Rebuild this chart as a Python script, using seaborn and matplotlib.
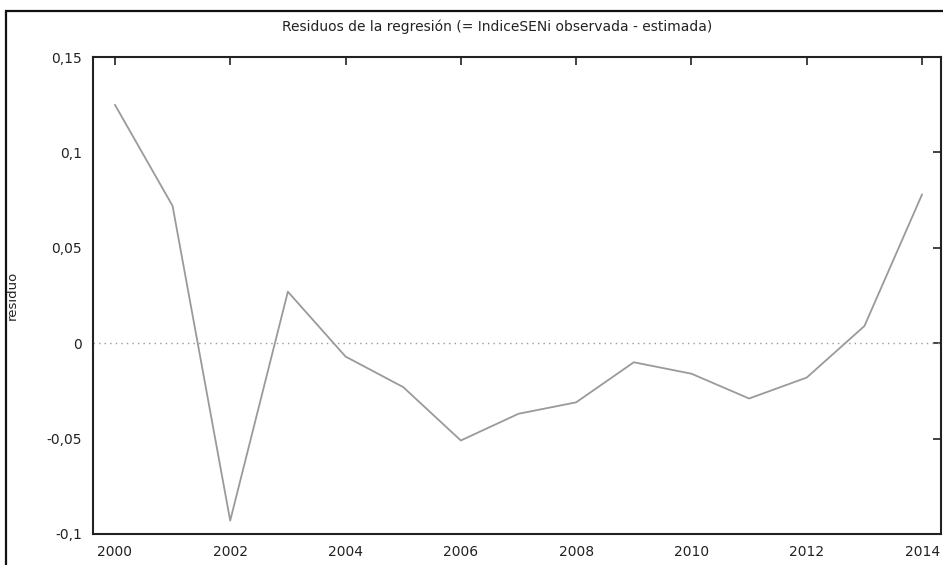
import matplotlib
matplotlib.use("Agg")
import matplotlib.pyplot as plt
from matplotlib.patches import Rectangle
from matplotlib.ticker import FuncFormatter
import pandas as pd
import seaborn as sns

# Residuals
years = [2000, 2001, 2002, 2003, 2004, 2005, 2006, 2007,
         2008, 2009, 2010, 2011, 2012, 2013, 2014]
residuo = [0.125, 0.072, -0.093, 0.027, -0.007, -0.023, -0.051, -0.037,
           -0.031, -0.010, -0.016, -0.029, -0.018, 0.009, 0.078]
x_ticks = [2000, 2002, 2004, 2006, 2008, 2010, 2012, 2014]
y_ticks = [-0.1, -0.05, 0, 0.05, 0.1, 0.15]

df = pd.DataFrame({"year": years, "residuo": residuo})

sns.set_style("white")
plt.rcParams["font.family"] = ["DejaVu Sans"]

fig = plt.figure(figsize=(9.43, 5.65), dpi=100)
ax = fig.add_axes([0.0986, 0.0549, 0.8994, 0.8442])

sns.lineplot(data=df, x="year", y="residuo", ax=ax, color="#9a9a9a", linewidth=1.3)
ax.axhline(0, color="#9a9a9a", linestyle=(0, (1, 3)), linewidth=1.0)

ax.set_xlim(1999.62, 2014.33)
ax.set_ylim(-0.1, 0.15)
ax.set_xticks(x_ticks)
ax.set_yticks(y_ticks)


def comma(v, pos):
    if abs(v) < 1e-12:
        return "0"
    s = ("%.2f" % v).rstrip("0").rstrip(".")
    return s.replace(".", ",")


ax.yaxis.set_major_formatter(FuncFormatter(comma))
ax.tick_params(direction="in", length=6, width=1.2, top=True, right=True,
               labelsize=10, colors="#222222", pad=8)
ax.tick_params(axis="x", labelcolor="#222222")
for sp in ax.spines.values():
    sp.set_color("#222222")
    sp.set_linewidth(1.5)

ax.set_xlabel("")
ax.set_ylabel("residuo", fontsize=9.5, color="#222222", labelpad=22)
ax.yaxis.set_label_coords(-0.088, 0.5)

fig.text(0.527, 0.952, "Residuos de la regresión (= IndiceSENi observada - estimada)",
         ha="center", va="center", fontsize=10, color="#222222")

# outer frame as in the screenshot
fig.patches.append(Rectangle((0.0064, -0.1), 1.1, 1.0805, transform=fig.transFigure,
                             fill=False, edgecolor="#111111", linewidth=1.6))

fig.savefig("out.png", dpi=100)
